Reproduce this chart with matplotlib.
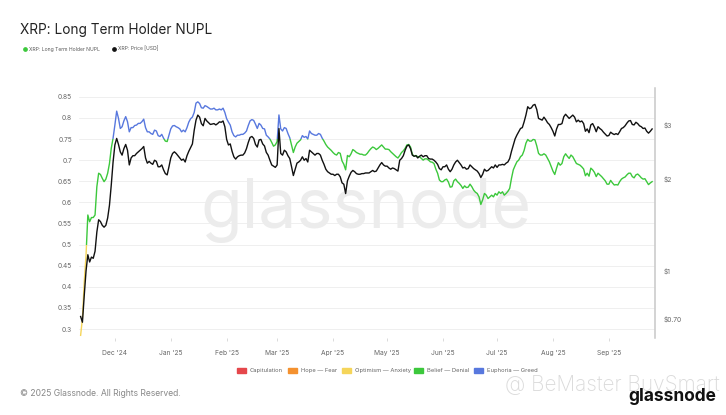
import numpy as np
import pandas as pd
import matplotlib
matplotlib.use("Agg")
import matplotlib.pyplot as plt
import matplotlib.dates as mdates
from matplotlib.lines import Line2D
from matplotlib.patches import Rectangle
from matplotlib.ticker import FixedLocator, NullLocator
from matplotlib.transforms import blended_transform_factory

plt.rcParams["font.family"] = ["Inter", "DejaVu Sans"]

# ---------------------------------------------------------------
# Data (daily values), one list per month
# ---------------------------------------------------------------
month_starts = ["2024-11-12", "2024-12-01", "2025-01-01", "2025-02-01", "2025-03-01",
                "2025-04-01", "2025-05-01", "2025-06-01", "2025-07-01", "2025-08-01",
                "2025-09-01"]

nupl_nov = [0.285, 0.325, 0.41, 0.475, 0.57, 0.554, 0.564, 0.564, 0.57, 0.637,
            0.669, 0.666, 0.657, 0.649, 0.655, 0.669, 0.692, 0.728, 0.752]
nupl_dec = [0.783, 0.816, 0.799, 0.775, 0.779, 0.793, 0.803, 0.791, 0.767, 0.777,
            0.777, 0.782, 0.783, 0.787, 0.787, 0.791, 0.797, 0.777, 0.767, 0.767,
            0.763, 0.761, 0.771, 0.769, 0.758, 0.756, 0.761, 0.752, 0.745, 0.744, 0.759]
nupl_jan = [0.774, 0.781, 0.782, 0.779, 0.777, 0.774, 0.767, 0.771, 0.767, 0.777,
            0.790, 0.798, 0.802, 0.813, 0.835, 0.838, 0.834, 0.824, 0.823, 0.829,
            0.827, 0.824, 0.821, 0.821, 0.823, 0.819, 0.819, 0.821, 0.819, 0.823, 0.813]
nupl_feb = [0.798, 0.790, 0.783, 0.767, 0.758, 0.755, 0.759, 0.759, 0.761, 0.761,
            0.764, 0.769, 0.782, 0.793, 0.796, 0.794, 0.785, 0.775, 0.787, 0.783,
            0.775, 0.774, 0.759, 0.755, 0.750, 0.742, 0.733, 0.736]
nupl_mar = [0.744, 0.807, 0.774, 0.769, 0.777, 0.775, 0.763, 0.753, 0.736, 0.718,
            0.731, 0.740, 0.744, 0.748, 0.758, 0.754, 0.756, 0.750, 0.769, 0.763,
            0.761, 0.759, 0.759, 0.763, 0.761, 0.752, 0.745, 0.737, 0.731, 0.727, 0.723]
nupl_apr = [0.718, 0.714, 0.712, 0.718, 0.716, 0.698, 0.690, 0.677, 0.711, 0.708,
            0.715, 0.725, 0.722, 0.718, 0.716, 0.714, 0.714, 0.712, 0.712, 0.716,
            0.722, 0.727, 0.731, 0.729, 0.725, 0.728, 0.732, 0.736, 0.731, 0.726]
nupl_may = [0.726, 0.725, 0.720, 0.716, 0.712, 0.708, 0.705, 0.711, 0.718, 0.722,
            0.728, 0.736, 0.737, 0.731, 0.714, 0.709, 0.711, 0.708, 0.708, 0.704,
            0.700, 0.703, 0.703, 0.700, 0.696, 0.695, 0.692, 0.679, 0.669, 0.653, 0.649]
nupl_jun = [0.649, 0.653, 0.655, 0.648, 0.636, 0.637, 0.651, 0.655, 0.649, 0.645,
            0.640, 0.633, 0.639, 0.635, 0.636, 0.643, 0.637, 0.629, 0.624, 0.621,
            0.613, 0.595, 0.606, 0.621, 0.617, 0.609, 0.613, 0.617, 0.613, 0.621]
nupl_jul = [0.617, 0.625, 0.621, 0.625, 0.617, 0.621, 0.626, 0.633, 0.657, 0.677,
            0.687, 0.696, 0.700, 0.708, 0.712, 0.723, 0.740, 0.749, 0.745, 0.745,
            0.749, 0.748, 0.734, 0.716, 0.712, 0.712, 0.715, 0.712, 0.704, 0.696, 0.685]
nupl_aug = [0.674, 0.666, 0.681, 0.694, 0.688, 0.692, 0.708, 0.715, 0.709, 0.704,
            0.712, 0.708, 0.700, 0.692, 0.690, 0.688, 0.684, 0.679, 0.663, 0.669,
            0.662, 0.681, 0.677, 0.671, 0.661, 0.669, 0.665, 0.661, 0.656, 0.651, 0.643]
nupl_sep = [0.643, 0.652, 0.646, 0.641, 0.642, 0.641, 0.649, 0.655, 0.658, 0.660,
            0.665, 0.669, 0.669, 0.661, 0.658, 0.665, 0.667, 0.663, 0.658, 0.655,
            0.656, 0.649, 0.642, 0.646, 0.649]

price_nov = [0.71, 0.68, 0.83, 1.00, 1.13, 1.07, 1.11, 1.10, 1.16, 1.34,
             1.47, 1.45, 1.41, 1.39, 1.41, 1.49, 1.64, 1.91, 2.27]
price_dec = [2.58, 2.71, 2.59, 2.45, 2.39, 2.51, 2.59, 2.48, 2.22, 2.34,
             2.38, 2.38, 2.42, 2.45, 2.48, 2.51, 2.55, 2.34, 2.25, 2.28,
             2.25, 2.23, 2.30, 2.28, 2.19, 2.19, 2.22, 2.14, 2.08, 2.06, 2.19]
price_jan = [2.34, 2.42, 2.45, 2.42, 2.38, 2.34, 2.30, 2.32, 2.27, 2.38,
             2.46, 2.53, 2.60, 2.88, 3.11, 3.23, 3.18, 3.03, 2.98, 3.15,
             3.09, 3.05, 3.01, 3.02, 3.03, 3.00, 3.03, 3.07, 3.06, 3.09, 2.96]
price_feb = [2.69, 2.58, 2.60, 2.46, 2.36, 2.32, 2.36, 2.38, 2.39, 2.39,
             2.43, 2.51, 2.63, 2.73, 2.75, 2.71, 2.59, 2.54, 2.68, 2.69,
             2.60, 2.56, 2.44, 2.39, 2.30, 2.22, 2.20, 2.18]
price_mar = [2.22, 2.92, 2.42, 2.39, 2.48, 2.45, 2.38, 2.33, 2.19, 2.05,
             2.15, 2.25, 2.27, 2.30, 2.36, 2.30, 2.33, 2.27, 2.48, 2.45,
             2.42, 2.39, 2.42, 2.42, 2.39, 2.30, 2.23, 2.15, 2.11, 2.09, 2.07]
price_apr = [2.07, 2.05, 2.07, 2.07, 2.03, 1.94, 1.92, 1.79, 1.97, 2.04,
             2.10, 2.13, 2.11, 2.08, 2.07, 2.07, 2.08, 2.08, 2.09, 2.09,
             2.09, 2.11, 2.13, 2.11, 2.12, 2.17, 2.22, 2.26, 2.22, 2.20]
price_may = [2.20, 2.17, 2.15, 2.17, 2.16, 2.14, 2.12, 2.30, 2.33, 2.38,
             2.48, 2.56, 2.58, 2.51, 2.39, 2.37, 2.38, 2.34, 2.37, 2.39,
             2.36, 2.38, 2.38, 2.33, 2.32, 2.32, 2.30, 2.27, 2.23, 2.16, 2.14]
price_jun = [2.19, 2.19, 2.22, 2.15, 2.11, 2.15, 2.22, 2.27, 2.30, 2.26,
             2.22, 2.17, 2.18, 2.15, 2.16, 2.22, 2.19, 2.16, 2.14, 2.12,
             2.08, 2.02, 2.07, 2.15, 2.12, 2.13, 2.16, 2.19, 2.17, 2.22]
price_jul = [2.18, 2.22, 2.22, 2.23, 2.22, 2.25, 2.27, 2.33, 2.46, 2.58,
             2.70, 2.78, 2.85, 2.92, 2.94, 3.07, 3.23, 3.44, 3.39, 3.41,
             3.48, 3.50, 3.37, 3.15, 3.13, 3.11, 3.18, 3.12, 3.05, 3.01, 2.94]
price_aug = [2.86, 2.76, 2.91, 3.01, 3.01, 3.03, 3.19, 3.25, 3.20, 3.15,
             3.19, 3.23, 3.18, 3.07, 3.11, 3.07, 3.09, 3.03, 2.86, 2.91,
             2.83, 3.00, 3.03, 2.95, 2.85, 2.96, 2.92, 2.89, 2.84, 2.80, 2.76]
price_sep = [2.77, 2.84, 2.81, 2.79, 2.81, 2.79, 2.85, 2.92, 2.94, 2.98,
             3.04, 3.09, 3.10, 3.01, 3.00, 3.06, 3.03, 2.98, 2.96, 2.92,
             2.93, 2.86, 2.82, 2.86, 2.91]

nupl_ticks = [0.3, 0.35, 0.4, 0.45, 0.5, 0.55, 0.6, 0.65, 0.7, 0.75, 0.8, 0.85]
price_ticks = [0.7, 1, 2, 3]
price_tick_labels = ["$0.70", "$1", "$2", "$3"]

# NUPL zones: (low, high, colour, label)
zones = [
    (-1.0, 0.0, "#e5474b", "Capitulation"),
    (0.0, 0.25, "#f4912f", "Hope \u2014 Fear"),
    (0.25, 0.5, "#f5d55a", "Optimism \u2014 Anxiety"),
    (0.5, 0.75, "#3cc83c", "Belief \u2014 Denial"),
    (0.75, 1.0, "#5878de", "Euphoria \u2014 Greed"),
]


def to_series(months):
    parts = [pd.Series(v, index=pd.date_range(s, periods=len(v), freq="D"))
             for s, v in zip(month_starts, months)]
    return pd.concat(parts)


nupl = to_series([nupl_nov, nupl_dec, nupl_jan, nupl_feb, nupl_mar, nupl_apr,
                  nupl_may, nupl_jun, nupl_jul, nupl_aug, nupl_sep])
price = to_series([price_nov, price_dec, price_jan, price_feb, price_mar, price_apr,
                   price_may, price_jun, price_jul, price_aug, price_sep])

# ---------------------------------------------------------------
# Figure
# ---------------------------------------------------------------
W, H = 726, 415
fig = plt.figure(figsize=(W / 100, H / 100), dpi=100)
ax = fig.add_axes([79 / W, 1 - 338 / H, (655 - 79) / W, (338 - 88) / H])
ax2 = ax.twinx()

# Watermark
ax.text(366 / W, 1 - 228 / H, "glassnode", transform=fig.transFigure, ha="center",
        va="baseline", fontsize=49, color="#ececec", zorder=0)

# NUPL, coloured by zone
band_trans = blended_transform_factory(ax.transAxes, ax.transData)
for lo, hi, col, _ in zones:
    line, = ax.plot(nupl.index, nupl.values, color=col, lw=1.0, zorder=2,
                    solid_joinstyle="round")
    line.set_clip_path(Rectangle((0, lo), 1, hi - lo, transform=band_trans))

# Price
ax2.plot(price.index, price.values, color="#111111", lw=1.0, zorder=3,
         solid_joinstyle="round")

# Axes limits
x0 = pd.Timestamp("2024-12-01")
ax.set_xlim(x0 - pd.Timedelta(days=19.9), x0 + pd.Timedelta(days=299.6))
ax.set_ylim(0.2787, 0.8708)
ax2.set_yscale("log")
ax2.set_ylim(0.604, 3.96)

# Left axis
ax.yaxis.set_major_locator(FixedLocator(nupl_ticks))
ax.set_yticklabels([f"{t:g}" for t in nupl_ticks])
ax.tick_params(axis="y", length=0, pad=5, labelsize=4.8, labelcolor="#666666")
ax.grid(axis="y", color="#ededed", lw=0.6)
ax.set_axisbelow(True)

# X axis
ax.xaxis.set_major_locator(mdates.MonthLocator())
ax.xaxis.set_major_formatter(mdates.DateFormatter("%b '%y"))
ax.tick_params(axis="x", length=2.5, width=0.5, color="#cccccc", pad=6,
               labelsize=4.8, labelcolor="#666666")

# Right axis
ax2.yaxis.set_major_locator(FixedLocator(price_ticks))
ax2.yaxis.set_minor_locator(NullLocator())
ax2.set_yticklabels(price_tick_labels)
ax2.tick_params(axis="y", length=0, pad=6, labelsize=4.8, labelcolor="#666666")

for a in (ax, ax2):
    for side in ("top", "left", "bottom", "right"):
        a.spines[side].set_visible(False)
ax2.spines["right"].set_visible(True)
ax2.spines["right"].set_color("#c8c8c8")
ax2.spines["right"].set_linewidth(1.1)

# Title and top legend
fig.text(20 / W, 1 - 30 / H, "XRP: Long Term Holder NUPL", fontsize=9.8,
         color="#222222", va="center")
for xd, xt, col, label in [(25, 29, "#3cc83c", "XRP: Long Term Holder NUPL"),
                           (114, 118, "#111111", "XRP: Price [USD]")]:
    fig.add_artist(Line2D([xd / W], [1 - 49 / H], marker="o", markersize=2.4,
                          color=col, transform=fig.transFigure))
    fig.text(xt / W, 1 - 49 / H, label, fontsize=3.6, color="#555555", va="center")

# Bottom zone legend
leg_x = [237, 288, 342, 414, 474]
for xs, (lo, hi, col, label) in zip(leg_x, zones):
    fig.add_artist(Rectangle((xs / W, 1 - 373 / H), 9 / W, 5 / H, color=col,
                             transform=fig.transFigure))
    fig.text((xs + 13) / W, 1 - 370.5 / H, label, fontsize=4.2, color="#666666",
             va="center")

# Footer
fig.text(20 / W, 1 - 393 / H, "\u00a9 2025 Glassnode. All Rights Reserved.",
         fontsize=6.2, color="#888888", va="center")
fig.text(505 / W, 1 - 385 / H, "@ BeMaster BuySmart", fontsize=15, color="#dadada",
         va="center", fontweight="light")
fig.text(716 / W, 1 - 396 / H, "glassnode", fontsize=12.5, fontweight="bold",
         color="#111111", ha="right", va="center")

fig.savefig("out.png", dpi=100)
